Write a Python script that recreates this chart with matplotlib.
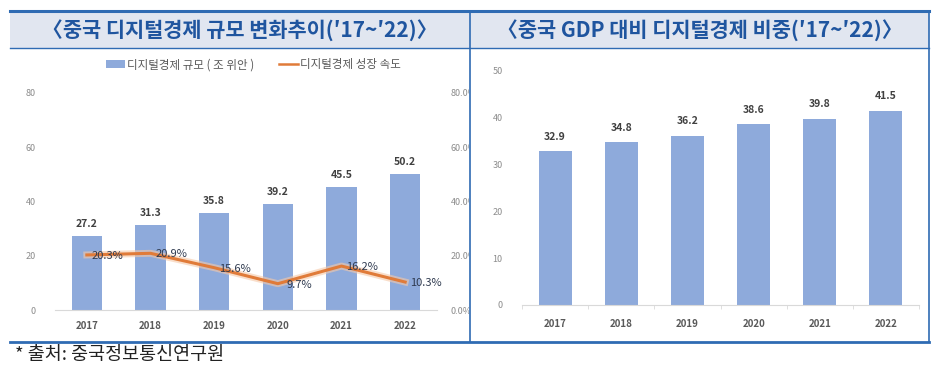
import numpy as np
import matplotlib.pyplot as plt
from matplotlib.patches import Rectangle, Patch
from matplotlib.lines import Line2D
from matplotlib.transforms import Bbox, TransformedBbox

plt.rcParams['font.family'] = ['Noto Sans CJK KR', 'DejaVu Sans']

# données
annees = ['2017', '2018', '2019', '2020', '2021', '2022']
taille = [27.2, 31.3, 35.8, 39.2, 45.5, 50.2]          # 조 위안
croissance = [20.3, 20.9, 15.6, 9.7, 16.2, 10.3]       # %
part_pib = [32.9, 34.8, 36.2, 38.6, 39.8, 41.5]        # %

titre_g = '〈중국 디지털경제 규모 변화추이(′17~′22)〉'
titre_d = '〈중국 GDP 대비 디지털경제 비중(′17~′22)〉'
source = '* 출처: 중국정보통신연구원'

W, H = 935, 366
BLEU_BARRE = '#8eaadb'
ORANGE = '#e07b39'
BORD = '#2f6bb3'
BANDE = '#e1e6f0'
GRIS = '#8c8c8c'


def px_axes(fig, x0, y0, x1, y1):
    # coordonnées pixels (origine en haut à gauche) -> axes
    return fig.add_axes([x0 / W, 1 - y1 / H, (x1 - x0) / W, (y1 - y0) / H])


def fy(y):
    return 1 - y / H


fig = plt.figure(figsize=(W / 100, H / 100), dpi=100)

# cadres et bandeaux de titre
for (x0, x1, titre) in [(10, 470, titre_g), (470, 929, titre_d)]:
    fig.patches.append(Rectangle((x0 / W, fy(48)), (x1 - x0) / W, (48 - 11) / H,
                                 transform=fig.transFigure, facecolor=BANDE,
                                 edgecolor='none', zorder=0))
    fig.text((x0 + x1) / 2 / W, fy(30), titre, ha='center', va='center',
             fontsize=15, color='#1f559f', fontweight='bold')

fig.add_artist(Line2D([10 / W, 929 / W], [fy(10.5), fy(10.5)], color=BORD, lw=2.2))
fig.add_artist(Line2D([10 / W, 929 / W], [fy(48), fy(48)], color=BORD, lw=1.0))
fig.add_artist(Line2D([10 / W, 929 / W], [fy(342), fy(342)], color=BORD, lw=2.0))
fig.add_artist(Line2D([470 / W, 470 / W], [fy(11), fy(342)], color=BORD, lw=1.2))
fig.add_artist(Line2D([929 / W, 929 / W], [fy(11), fy(342)], color=BORD, lw=1.2))

fig.text(15 / W, fy(355), source, ha='left', va='center', fontsize=13.3, color='#222222')

x = np.arange(len(annees))

# ---- graphique gauche ----
ax = px_axes(fig, 55, 93, 437, 310)
ax.bar(x, taille, width=0.48, color=BLEU_BARRE, zorder=2)
for xi, v in zip(x, taille):
    ax.text(xi, v + 2.5, f'{v:.1f}', ha='center', va='bottom', fontsize=7.5,
            fontweight='bold', color='#404040')
ax.set_xlim(-0.5, 5.5)
ax.set_ylim(0, 80)
ax.set_yticks([0, 20, 40, 60, 80])
ax.set_xticks(x)
ax.set_xticklabels(annees, fontsize=7, fontweight='bold', color='#595959')
ax.tick_params(axis='y', labelsize=6.5, labelcolor=GRIS, length=0, pad=14)
ax.tick_params(axis='x', length=0, pad=8)
for s in ['top', 'right', 'left']:
    ax.spines[s].set_visible(False)
ax.spines['bottom'].set_color('#d9d9d9')

ax2 = ax.twinx()
ax2.plot(x, croissance, color='#f6c9a8', lw=5, alpha=0.6, zorder=3)
ax2.plot(x, croissance, color=ORANGE, lw=2.2, zorder=4)
for xi, v in zip(x, croissance):
    ax2.annotate(f'{v:.1f}%', (xi, v), xytext=(21, -1), textcoords='offset pixels',
                 ha='center', va='center', fontsize=8, color='#2f3a4f', zorder=5)
ax2.set_ylim(0, 80)
ax2.set_yticks([0, 20, 40, 60, 80])
ax2.set_yticklabels([f'{t:.1f}%' for t in [0, 20, 40, 60, 80]])
ax2.tick_params(axis='y', labelsize=6.5, labelcolor=GRIS, length=0, pad=10)
for s in ax2.spines.values():
    s.set_visible(False)
# les étiquettes de droite sont coupées par le cadre
coupe = TransformedBbox(Bbox([[0, 0], [469 / W, 1]]), fig.transFigure)
for t in ax2.get_yticklabels():
    t.set_clip_on(True)
    t.set_clip_box(coupe)

poignees = [Patch(facecolor=BLEU_BARRE, edgecolor='none'),
            Line2D([0], [0], color=ORANGE, lw=1.8)]
ax.legend(poignees, ['디지털경제 규모 ( 조 위안 )', '디지털경제 성장 속도'],
          loc='center', bbox_to_anchor=(0.52, 1.13), ncol=2, frameon=False,
          fontsize=8.3, labelcolor='#595959', handlelength=1.6, handletextpad=0.2,
          columnspacing=2.2)

# ---- graphique droit ----
bx = px_axes(fig, 522, 71, 919, 305)
bx.bar(x, part_pib, width=0.5, color=BLEU_BARRE, zorder=2)
for xi, v in zip(x, part_pib):
    bx.text(xi, v + 2.0, f'{v:.1f}', ha='center', va='bottom', fontsize=7.5,
            fontweight='bold', color='#404040')
bx.set_xlim(-0.5, 5.5)
bx.set_ylim(0, 50)
bx.set_yticks([0, 10, 20, 30, 40, 50])
bx.set_xticks(x)
bx.set_xticklabels(annees, fontsize=7, fontweight='bold', color='#595959')
bx.set_xticks(np.arange(-0.5, 6, 1), minor=True)
bx.tick_params(axis='y', labelsize=6.5, labelcolor=GRIS, length=0, pad=14)
bx.tick_params(axis='x', which='major', length=0, pad=10)
bx.tick_params(axis='x', which='minor', length=3, color='#d9d9d9')
for s in ['top', 'right', 'left']:
    bx.spines[s].set_visible(False)
bx.spines['bottom'].set_color('#d9d9d9')

fig.savefig('out.png', dpi=100)
